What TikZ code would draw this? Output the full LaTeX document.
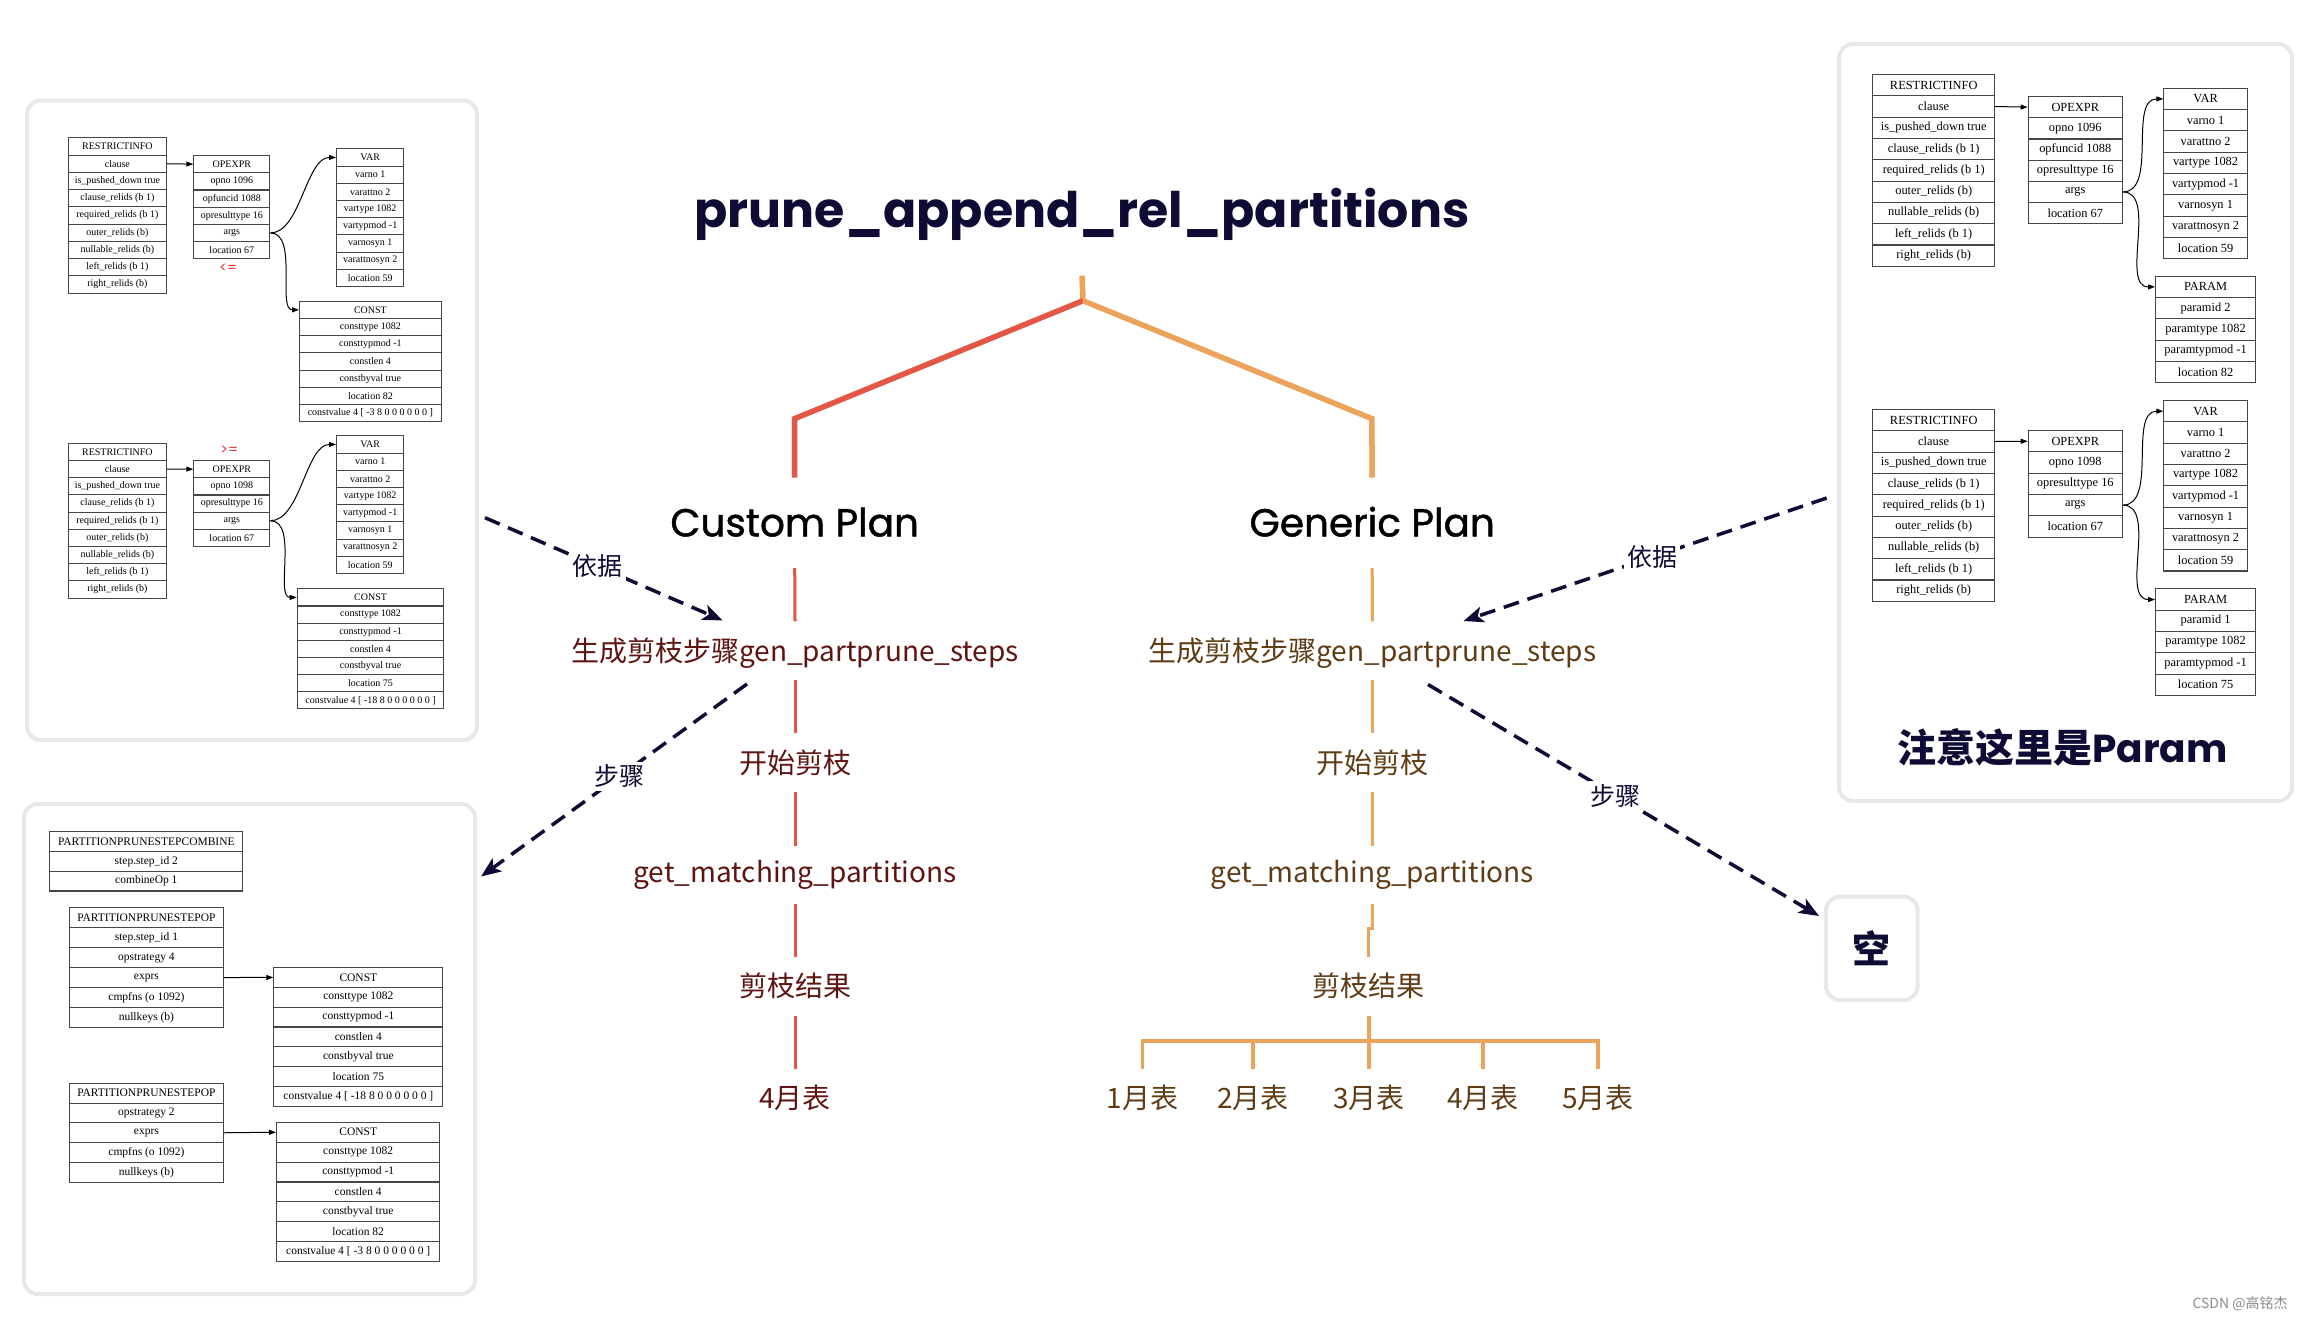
\documentclass[tikz,border=0pt]{standalone}
\usepackage{fontspec}
\setmainfont{Noto Sans CJK SC}
\newfontfamily\cjk{Noto Sans CJK SC}
\newfontfamily\titlefont{Poppins}
\newfontfamily\popmed{Poppins}[FakeBold=1.2]
\newfontfamily\tabfont{Liberation Serif}
\usetikzlibrary{arrows.meta}

\definecolor{navyc}{RGB}{14,12,52}
\definecolor{redl}{RGB}{228,86,70}
\definecolor{orl}{RGB}{236,163,92}
\definecolor{cmaroon}{RGB}{95,20,18}
\definecolor{cbrown}{RGB}{96,60,20}
\definecolor{panelgray}{RGB}{232,232,236}
\definecolor{tabline}{RGB}{70,70,70}
\definecolor{opred}{RGB}{232,50,40}

\tikzset{
  panel/.style={draw=panelgray, line width=4pt, rounded corners=14pt, fill=white, inner sep=0pt},
  recrow/.style={draw=tabline, line width=1.1pt, inner sep=0pt, fill=white, text=black},
  recarr/.style={-{Triangle[length=7pt,width=5pt]}, line width=1pt, black},
  dasharr/.style={draw=navyc, line width=3.5pt, dash pattern=on 16pt off 9pt,
    -{Stealth[length=20pt,width=16pt,inset=5pt]}},
  dlabel/.style={fill=white, text=navyc, font=\cjk\fontsize{25}{25}\selectfont, inner sep=3pt},
  ctxt/.style={anchor=base, inner sep=0pt, text=cmaroon, font=\cjk\fontsize{28}{28}\selectfont},
  gtxt/.style={anchor=base, inner sep=0pt, text=cbrown, font=\cjk\fontsize{28}{28}\selectfont},
  plantxt/.style={anchor=base, inner sep=0pt, text=black, font=\popmed\fontsize{39}{39}\selectfont},
  redthick/.style={draw=redl, line width=5.5pt},
  orthick/.style={draw=orl, line width=5.5pt},
  redseg/.style={draw=redl, line width=3pt},
  orseg/.style={draw=orl, line width=3pt},
  orbar/.style={draw=orl, line width=3.6pt},
  optxt/.style={text=opred, font=\titlefont\fontsize{14}{14}\selectfont, inner sep=0pt}
}

\newcommand\rectab[7]{%
  \foreach \rowtext [count=\i from 0] in {#7}{%
    \node[recrow, minimum width=#4pt, minimum height=#5pt,
      font=\tabfont\fontsize{#6}{#6}\selectfont, anchor=north west]
      (#1-\i) at (#2,{#3+\i*#5}) {\rowtext};
  }%
}

\begin{document}
\begin{tikzpicture}[x=1pt,y=-1pt]
\useasboundingbox (0,0) rectangle (2306,1320);
\fill[white] (0,0) rectangle (2306,1320);

% panels
\node[panel, anchor=north west, minimum width=450pt, minimum height=639.5pt] (p1) at (25,98.5) {};
\node[panel, anchor=north west, minimum width=451pt, minimum height=490pt] (p2) at (22,802) {};
\node[panel, anchor=north west, minimum width=453pt, minimum height=757pt] (p3) at (1837,42) {};
\node[panel, minimum width=91.7pt, minimum height=103.3pt, text=navyc,
  font=\cjk\bfseries\fontsize{38}{38}\selectfont] (kong) at (1871.8,948.3) {空};

% ---------- top-left panel tables
\rectab{T1}{67.7}{137.3}{98.3}{17.26}{10}{RESTRICTINFO,clause,is\_pushed\_down true,clause\_relids (b 1),required\_relids (b 1),outer\_relids (b),nullable\_relids (b),left\_relids (b 1),right\_relids (b)}
\rectab{T2}{193.3}{155}{76}{17.2}{10}{OPEXPR,opno 1096,opfuncid 1088,opresulttype 16,args,location 67}
\rectab{T3}{336}{148.3}{67.3}{17.2}{10}{VAR,varno 1,varattno 2,vartype 1082,vartypmod -1,varnosyn 1,varattnosyn 2,location 59}
\rectab{T4}{299}{300.7}{141.7}{17.2}{10}{CONST,consttype 1082,consttypmod -1,constlen 4,constbyval true,location 82,{constvalue 4 [ -3 8 0 0 0 0 0 0 ]}}
\node[optxt] (le) at (228.3,268.3) {<=};

\rectab{T5}{67.7}{442.7}{98.3}{17.2}{10}{RESTRICTINFO,clause,is\_pushed\_down true,clause\_relids (b 1),required\_relids (b 1),outer\_relids (b),nullable\_relids (b),left\_relids (b 1),right\_relids (b)}
\rectab{T6}{193.3}{460}{76}{17.2}{10}{OPEXPR,opno 1098,opresulttype 16,args,location 67}
\rectab{T7}{336}{435.3}{67.3}{17.2}{10}{VAR,varno 1,varattno 2,vartype 1082,vartypmod -1,varnosyn 1,varattnosyn 2,location 59}
\rectab{T8}{296.7}{588.3}{146.6}{17.15}{10}{CONST,consttype 1082,consttypmod -1,constlen 4,constbyval true,location 75,{constvalue 4 [ -18 8 0 0 0 0 0 0 ]}}
\node[optxt] (ge) at (229.3,450) {>=};

\draw[recarr] (T1-1.east) -- (T2-0.west);
\draw[recarr] (T2-4.east) .. controls +(30,0) and +(-30,0) .. (T3-0.west);
\draw[recarr] (T2-4.east) .. controls +(28,0) and +(-22,0) .. (T4-0.west);
\draw[recarr] (T5-1.east) -- (T6-0.west);
\draw[recarr] (T6-3.east) .. controls +(30,0) and +(-30,0) .. (T7-0.west);
\draw[recarr] (T6-3.east) .. controls +(28,0) and +(-22,0) .. (T8-0.west);

% ---------- bottom-left panel tables
\rectab{T9}{49.3}{831}{193}{19.8}{11.5}{PARTITIONPRUNESTEPCOMBINE,step.step\_id 2,combineOp 1}
\rectab{T10}{69}{907.3}{153.7}{19.9}{11.5}{PARTITIONPRUNESTEPOP,step.step\_id 1,opstrategy 4,exprs,cmpfns (o 1092),nullkeys (b)}
\rectab{T11}{273.3}{967}{169}{19.8}{11.5}{CONST,consttype 1082,consttypmod -1,constlen 4,constbyval true,location 75,{constvalue 4 [ -18 8 0 0 0 0 0 0 ]}}
\rectab{T12}{69}{1082.7}{153.7}{19.8}{11.5}{PARTITIONPRUNESTEPOP,opstrategy 2,exprs,cmpfns (o 1092),nullkeys (b)}
\rectab{T13}{276}{1121.7}{163.3}{19.9}{11.5}{CONST,consttype 1082,consttypmod -1,constlen 4,constbyval true,location 82,{constvalue 4 [ -3 8 0 0 0 0 0 0 ]}}
\draw[recarr] (T10-3.east) -- (T11-0.west);
\draw[recarr] (T12-2.east) -- (T13-0.west);

% ---------- top-right panel tables
\rectab{T14}{1872.3}{74}{121.7}{21.3}{12.4}{RESTRICTINFO,clause,is\_pushed\_down true,clause\_relids (b 1),required\_relids (b 1),outer\_relids (b),nullable\_relids (b),left\_relids (b 1),right\_relids (b)}
\rectab{T15}{2027.7}{96}{94}{21.2}{12.4}{OPEXPR,opno 1096,opfuncid 1088,opresulttype 16,args,location 67}
\rectab{T16}{2163.3}{87.7}{83.4}{21.3}{12.4}{VAR,varno 1,varattno 2,vartype 1082,vartypmod -1,varnosyn 1,varattnosyn 2,location 59}
\rectab{T17}{2155}{275.7}{100}{21.3}{12.4}{PARAM,paramid 2,paramtype 1082,paramtypmod -1,location 82}
\rectab{T18}{1872.3}{409}{121.7}{21.3}{12.4}{RESTRICTINFO,clause,is\_pushed\_down true,clause\_relids (b 1),required\_relids (b 1),outer\_relids (b),nullable\_relids (b),left\_relids (b 1),right\_relids (b)}
\rectab{T19}{2027.7}{430}{94}{21.3}{12.4}{OPEXPR,opno 1098,opresulttype 16,args,location 67}
\rectab{T20}{2163.3}{400}{83.4}{21.3}{12.4}{VAR,varno 1,varattno 2,vartype 1082,vartypmod -1,varnosyn 1,varattnosyn 2,location 59}
\rectab{T21}{2155}{588.3}{100}{21.3}{12.4}{PARAM,paramid 1,paramtype 1082,paramtypmod -1,location 75}
\draw[recarr] (T14-1.east) -- (T15-0.west);
\draw[recarr] (T15-4.east) .. controls +(35,0) and +(-35,0) .. (T16-0.west);
\draw[recarr] (T15-4.east) .. controls +(35,0) and +(-35,0) .. (T17-0.west);
\draw[recarr] (T18-1.east) -- (T19-0.west);
\draw[recarr] (T19-3.east) .. controls +(35,0) and +(-35,0) .. (T20-0.west);
\draw[recarr] (T19-3.east) .. controls +(35,0) and +(-35,0) .. (T21-0.west);

\node[anchor=base, inner sep=0pt, text=navyc] (note) at (2062.5,762.3)
  {{\cjk\bfseries\fontsize{39}{39}\selectfont 注意这里是}{\titlefont\bfseries\fontsize{39}{39}\selectfont Param}};

% ---------- centre tree
\node[anchor=base, inner sep=0pt, text=navyc, font=\titlefont\bfseries\fontsize{49}{49}\selectfont]
  (title) at (1082,227.5) {prune\_append\_rel\_partitions};
\node[plantxt] (cplan) at (794.7,536.4) {Custom Plan};
\node[plantxt] (gplan) at (1372.2,536.4) {Generic Plan};

\coordinate (junc) at (1083,300.7);
\coordinate (cbend) at (794.7,418.6);
\coordinate (gbend) at (1371.8,418.6);
\draw[orthick] ([yshift=-48.2pt]title.base) -- (junc);
\draw[redthick] (junc) -- (cbend) -- ([yshift=58.9pt]cplan.base);
\draw[orthick] (junc) -- (gbend) -- ([yshift=58.9pt]gplan.base);

% custom column
\node[ctxt] (cgen) at (795,661.3) {生成剪枝步骤gen\_partprune\_steps};
\node[ctxt] (cstart) at (795,773.3) {开始剪枝};
\node[ctxt] (cget) at (795,882.7) {get\_matching\_partitions};
\node[ctxt] (cres) at (795,996.6) {剪枝结果};
\node[ctxt] (c4) at (795,1108.9) {4月表};
\draw[redseg] ([yshift=-31.6pt]cplan.base) -- ([yshift=39.9pt]cgen.base);
\draw[redseg] ([yshift=-18.7pt]cgen.base) -- ([yshift=40pt]cstart.base);
\draw[redseg] ([yshift=-19pt]cstart.base) -- ([yshift=37pt]cget.base);
\draw[redseg] ([yshift=-21.3pt]cget.base) -- ([yshift=39.3pt]cres.base);
\draw[redseg] ([yshift=-19.4pt]cres.base) -- ([yshift=39.6pt]c4.base);

% generic column
\node[gtxt] (ggen) at (1372.4,661.3) {生成剪枝步骤gen\_partprune\_steps};
\node[gtxt] (gstart) at (1372.4,773.3) {开始剪枝};
\node[gtxt] (gget) at (1372.4,882.7) {get\_matching\_partitions};
\node[gtxt] (gres) at (1368.9,996.6) {剪枝结果};
\node[gtxt] (g1) at (1142.3,1108.9) {1月表};
\node[gtxt] (g2) at (1253,1108.9) {2月表};
\node[gtxt] (g3) at (1368.9,1108.9) {3月表};
\node[gtxt] (g4) at (1483.2,1108.9) {4月表};
\node[gtxt] (g5) at (1598.2,1108.9) {5月表};
\draw[orseg] ([yshift=-31.6pt]gplan.base) -- ([yshift=39.9pt]ggen.base);
\draw[orseg] ([yshift=-18.7pt]ggen.base) -- ([yshift=40pt]gstart.base);
\draw[orseg] ([yshift=-19pt]gstart.base) -- ([yshift=37pt]gget.base);
\draw[orseg] ([yshift=-21.3pt]gget.base) -- ++(0,24.3) -| ([yshift=39.3pt]gres.base);
\foreach \m in {g1,g2,g3,g4,g5}{
  \draw[orbar] ([yshift=-19.4pt]gres.base) -- ++(0,25) -| ([yshift=39.6pt]\m.base);
}

% dashed connectors
\coordinate (a1s) at (485,517.7);
\coordinate (a1e) at (722.6,620.4);
\coordinate (a2s) at (747,684);
\coordinate (a2e) at (481,876.5);
\coordinate (a3s) at (1826.7,498);
\coordinate (a3e) at (1463.5,621);
\coordinate (a4s) at (1428,684.5);
\coordinate (a4e) at (1819,916);
\draw[dasharr] (a1s) -- node[dlabel, pos=0.475] (l1) {依据} (a1e);
\draw[dasharr] (a2s) -- node[dlabel, pos=0.48] (l2) {步骤} (a2e);
\draw[dasharr] (a3s) -- node[dlabel, pos=0.48] (l3) {依据} (a3e);
\draw[dasharr] (a4s) -- node[dlabel, pos=0.48] (l4) {步骤} (a4e);

% watermark
\node[anchor=base, inner sep=0pt, text=black!45, font=\cjk\fontsize{14}{14}\selectfont] (wm) at (2240,1308) {CSDN @高铭杰};
\end{tikzpicture}
\end{document}
